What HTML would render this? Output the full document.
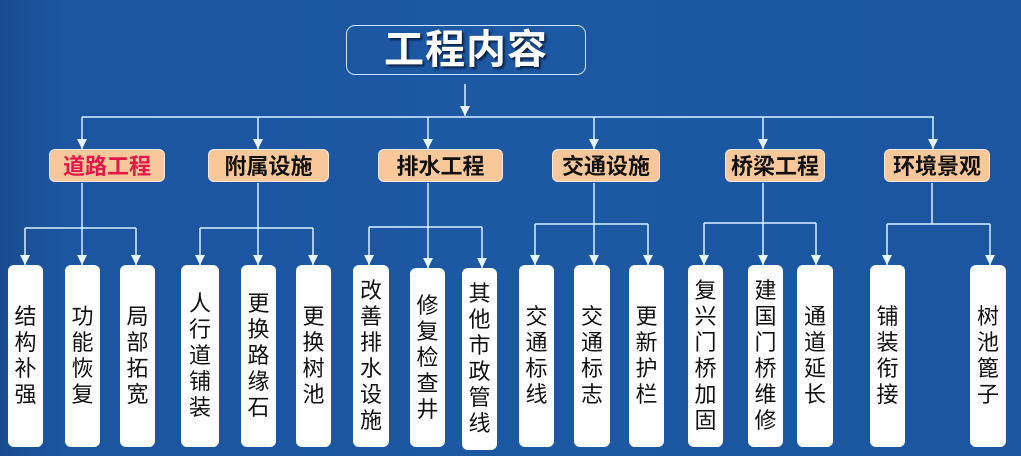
<!DOCTYPE html>
<html><head><meta charset="utf-8"><style>
html,body{margin:0;padding:0}
body{width:1021px;height:456px;position:relative;overflow:hidden;
background:linear-gradient(90deg,#1a4d8f 0px,#1c55a0 60px,#1d58a3 500px,#1c56a0 1021px);
font-family:"Liberation Sans","Noto Sans CJK SC",sans-serif}
.t{position:absolute;left:346px;top:25px;width:238px;height:48px;border:1.5px solid #cfe6ff;border-radius:9px;
color:#fff;font-size:40px;font-weight:bold;line-height:48px;text-align:center;text-shadow:2px 2px 2px #0a1f40;letter-spacing:1px}
.c{position:absolute;top:149px;height:33px;background:#f8c89a;border:1.5px solid #f3e6da;border-radius:6px;
font-size:22px;font-weight:bold;line-height:33px;text-align:center;color:#111;box-sizing:border-box}
.l{position:absolute;background:#fff;border-radius:6px;width:35px;font-size:22px;line-height:26px;color:#111;
display:flex;align-items:center;justify-content:center;text-align:center;box-sizing:border-box;padding:0 6px}
svg{position:absolute;left:0;top:0}
</style></head><body>
<svg width="1021" height="456">
<defs><marker id="a" markerWidth="10" markerHeight="10" refX="10" refY="5" orient="auto" markerUnits="userSpaceOnUse">
<path d="M0,0 L10,5 L0,10 z" fill="#e8f6ff"/></marker></defs>
<g stroke="#d8f0ff" stroke-width="1.5" fill="none">
<line x1="465" y1="84" x2="465" y2="116" marker-end="url(#a)"/>
<line x1="82" y1="117" x2="934" y2="117"/>
<line x1="82" y1="117" x2="82" y2="149" marker-end="url(#a)"/>
<line x1="258" y1="117" x2="258" y2="149" marker-end="url(#a)"/>
<line x1="428" y1="117" x2="428" y2="149" marker-end="url(#a)"/>
<line x1="594" y1="117" x2="594" y2="149" marker-end="url(#a)"/>
<line x1="763" y1="117" x2="763" y2="149" marker-end="url(#a)"/>
<line x1="933" y1="117" x2="933" y2="149" marker-end="url(#a)"/>
<line x1="82" y1="183" x2="82" y2="228"/><line x1="25" y1="228" x2="136" y2="228"/>
<line x1="25" y1="228" x2="25" y2="265" marker-end="url(#a)"/><line x1="82" y1="228" x2="82" y2="265" marker-end="url(#a)"/><line x1="136" y1="228" x2="136" y2="265" marker-end="url(#a)"/>
<line x1="258" y1="183" x2="258" y2="228"/><line x1="200" y1="228" x2="313" y2="228"/>
<line x1="200" y1="228" x2="200" y2="265" marker-end="url(#a)"/><line x1="258" y1="228" x2="258" y2="265" marker-end="url(#a)"/><line x1="313" y1="228" x2="313" y2="265" marker-end="url(#a)"/>
<line x1="428" y1="183" x2="428" y2="227"/><line x1="369" y1="227" x2="482" y2="227"/>
<line x1="369" y1="227" x2="369" y2="265" marker-end="url(#a)"/><line x1="428" y1="227" x2="428" y2="268" marker-end="url(#a)"/><line x1="482" y1="227" x2="482" y2="268" marker-end="url(#a)"/>
<line x1="594" y1="183" x2="594" y2="224"/><line x1="535" y1="224" x2="648" y2="224"/>
<line x1="535" y1="224" x2="535" y2="265" marker-end="url(#a)"/><line x1="594" y1="224" x2="594" y2="265" marker-end="url(#a)"/><line x1="648" y1="224" x2="648" y2="265" marker-end="url(#a)"/>
<line x1="763" y1="183" x2="763" y2="223"/><line x1="704" y1="223" x2="816" y2="223"/>
<line x1="704" y1="223" x2="704" y2="265" marker-end="url(#a)"/><line x1="763" y1="223" x2="763" y2="265" marker-end="url(#a)"/><line x1="816" y1="223" x2="816" y2="265" marker-end="url(#a)"/>
<line x1="932" y1="183" x2="932" y2="224"/><line x1="887" y1="224" x2="990" y2="224"/>
<line x1="887" y1="224" x2="887" y2="265" marker-end="url(#a)"/><line x1="990" y1="224" x2="990" y2="265" marker-end="url(#a)"/>
</g></svg>
<div class="t">工程内容</div>
<div class="c" style="left:49px;width:116px;color:#e3174a">道路工程</div>
<div class="c" style="left:208px;width:121px">附属设施</div>
<div class="c" style="left:378px;width:125px">排水工程</div>
<div class="c" style="left:552px;width:108px">交通设施</div>
<div class="c" style="left:725px;width:100px">桥梁工程</div>
<div class="c" style="left:884px;width:106px">环境景观</div>

<div class="l" style="left:8px;top:265px;height:182px">结构补强</div>
<div class="l" style="left:65px;top:265px;height:182px">功能恢复</div>
<div class="l" style="left:120px;top:265px;height:182px">局部拓宽</div>
<div class="l" style="left:181px;top:265px;height:182px;width:38px">人行道铺装</div>
<div class="l" style="left:241px;top:265px;height:182px">更换路缘石</div>
<div class="l" style="left:296px;top:265px;height:182px">更换树池</div>
<div class="l" style="left:353px;top:265px;height:182px;width:36px">改善排水设施</div>
<div class="l" style="left:410px;top:268px;height:179px">修复检查井</div>
<div class="l" style="left:462px;top:268px;height:182px">其他市政管线</div>
<div class="l" style="left:519px;top:265px;height:182px">交通标线</div>
<div class="l" style="left:574px;top:265px;height:182px;width:36px">交通标志</div>
<div class="l" style="left:629px;top:265px;height:182px">更新护栏</div>
<div class="l" style="left:688px;top:265px;height:182px">复兴门桥加固</div>
<div class="l" style="left:748px;top:265px;height:182px">建国门桥维修</div>
<div class="l" style="left:797px;top:265px;height:182px;width:36px">通道延长</div>
<div class="l" style="left:870px;top:265px;height:182px">铺装衔接</div>
<div class="l" style="left:970px;top:265px;height:182px;width:36px">树池篦子</div>
</body></html>
